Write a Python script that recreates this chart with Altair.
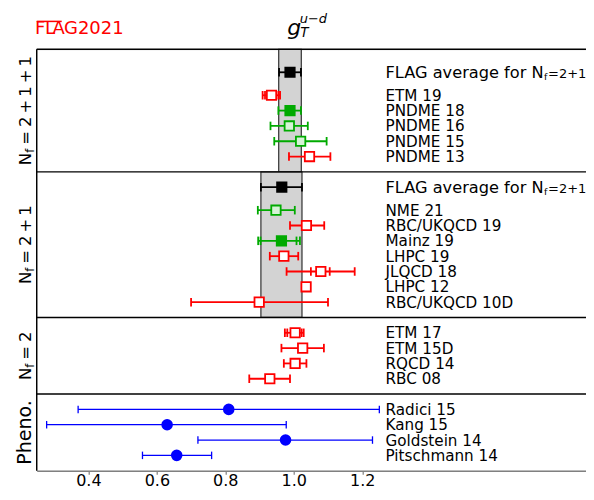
import altair as alt
import pandas as pd

# ---------------- data ----------------
names = ["", "ETM 19", "PNDME 18", "PNDME 16", "PNDME 15", "PNDME 13",
         "", "NME 21", "RBC/UKQCD 19", "Mainz 19", "LHPC 19", "JLQCD 18", "LHPC 12", "RBC/UKQCD 10D",
         "ETM 17", "ETM 15D", "RQCD 14", "RBC 08",
         "Radici 15", "Kang 15", "Goldstein 14", "Pitschmann 14"]
rows = [26, 24.5, 23.5, 22.5, 21.5, 20.5,
        18.5, 17, 16, 15, 14, 13, 12, 11,
        9, 8, 7, 6,
        4, 3, 2, 1]
values = [0.989, 0.935, 0.989, 0.987, 1.020, 1.046,
          0.965, 0.948, 1.037, 0.964, 0.971, 1.079, 1.036, 0.899,
          1.004, 1.026, 1.004, 0.930,
          0.810, 0.630, 0.976, 0.658]
err_lo = [0.957, 0.909, 0.955, 0.932, 0.943, 0.986,
          0.904, 0.895, 0.989, 0.896, 0.930, 0.979, 1.027, 0.700,
          0.974, 0.964, 0.971, 0.870,
          0.370, 0.278, 0.720, 0.558]
err_hi = [1.021, 0.960, 1.021, 1.041, 1.096, 1.107,
          1.024, 1.003, 1.089, 1.018, 1.013, 1.178, 1.045, 1.100,
          1.029, 1.088, 1.037, 0.989,
          1.250, 0.978, 1.230, 0.760]
stat_lo = [None, 0.916, None, None, None, None,
           None, None, None, 0.903, None, 1.050, None, None,
           0.981, None, None, None,
           None, None, None, None]
stat_hi = [None, 0.955, None, None, None, None,
           None, None, None, 1.008, None, 1.105, None, None,
           1.023, None, None, None,
           None, None, None, None]
styles = ["avg", "red", "green", "lgreen", "lgreen", "red",
          "avg", "lgreen", "red", "green", "red", "red", "red", "red",
          "red", "red", "red", "red",
          "blue", "blue", "blue", "blue"]

avg_rows = [26, 18.5]
avg_rest = ["=2+1+1", "=2+1"]

panel_top = [27.5, 19.5, 10, 5]
panel_bot = [19.5, 10, 5, 0]
panel_nf = [["=", "2", "+", "1", "+", "1"], ["=", "2", "+", "1"], ["=", "2"], None]

band_lo = [0.956, 0.904]
band_hi = [1.022, 1.024]
band_top = [27.5, 19.5]
band_bot = [19.5, 10]

x_ticks = [0.4, 0.6, 0.8, 1.0, 1.2]

# ---------------- layout / style ----------------
PAD_L, PAD_T, PAD_B = 28.7, 41.3, 21
W, H = 578 - PAD_L, 421.4
X_MIN = 0.249
X_MAX = X_MIN + W / 342.3
Y_MIN, Y_MAX = 0.0, 27.5
PPU_Y = H / (Y_MAX - Y_MIN)
LABEL_X = 1.268
FONT = "DejaVu Sans"
RED, GREEN, LGREEN, BLUE = "#ff0000", "#00aa00", "#d6f3d6", "#0000ff"

style_map = {
    "avg": ("black", "black", "square", 88),
    "red": (RED, "white", "square", 88),
    "green": (GREEN, GREEN, "square", 88),
    "lgreen": (GREEN, LGREEN, "square", 88),
    "blue": (BLUE, BLUE, "circle", 95),
}

df = pd.DataFrame({"name": names, "row": rows, "val": values, "lo": err_lo, "hi": err_hi,
                   "style": styles})
df["stroke"] = [style_map[s][0] for s in styles]
df["fill"] = [style_map[s][1] for s in styles]
df["shape"] = [style_map[s][2] for s in styles]
df["size"] = [style_map[s][3] for s in styles]
df["lw"] = [1.3 if s == "blue" else 1.8 for s in styles]
df["lx"] = LABEL_X

caps = []
for i in range(len(rows)):
    for v in (err_lo[i], err_hi[i], stat_lo[i], stat_hi[i]):
        if v is not None:
            caps.append({"x": v, "row": rows[i], "stroke": df["stroke"][i], "blue": styles[i] == "blue"})
caps = pd.DataFrame(caps)

xs = alt.Scale(domain=[X_MIN, X_MAX], nice=False, zero=False)
ys = alt.Scale(domain=[Y_MIN, Y_MAX], nice=False, zero=False)
xaxis = alt.Axis(values=x_ticks, format=".1f", title=None, grid=False,
                 domainColor="#808080", domainWidth=1.6, tickColor="#808080",
                 tickWidth=1.2, tickSize=3.5, labelFontSize=16, labelColor="black",
                 labelBaseline="alphabetic", labelPadding=11.5, labelFont=FONT)


def X(f):
    return alt.X(f, type="quantitative", scale=xs, axis=xaxis)


def Y(f):
    return alt.Y(f, type="quantitative", scale=ys, axis=None)


layers = []

band_df = pd.DataFrame({"lo": band_lo, "hi": band_hi, "top": band_top, "bot": band_bot})
layers.append(alt.Chart(band_df).mark_rect(fill="#d3d3d3", stroke="#333333", strokeWidth=1.2)
              .encode(x=X("lo"), x2="hi", y=Y("bot"), y2="top"))

sep_df = pd.DataFrame({"y": panel_top})
layers.append(alt.Chart(sep_df).mark_rule(color="black", strokeWidth=1.4)
              .encode(y=Y("y"), x=alt.value(0), x2=alt.value(W)))
one = pd.DataFrame({"a": [0]})
layers.append(alt.Chart(one).mark_rule(color="black", strokeWidth=1.4)
              .encode(x=alt.value(0), y=alt.value(0), y2=alt.value(H)))

# error bars
layers.append(alt.Chart(df).mark_rule()
              .encode(x=X("lo"), x2="hi", y=Y("row"),
                      color=alt.Color("stroke:N", scale=None),
                      strokeWidth=alt.StrokeWidth("lw:Q", scale=None)))
layers.append(alt.Chart(caps[~caps["blue"]]).mark_tick(orient="vertical", size=8.5, thickness=1.8, opacity=1)
              .encode(x=X("x"), y=Y("row"), color=alt.Color("stroke:N", scale=None)))
layers.append(alt.Chart(caps[caps["blue"]]).mark_tick(orient="vertical", size=7.5, thickness=1.3, opacity=1)
              .encode(x=X("x"), y=Y("row"), color=alt.Color("stroke:N", scale=None)))

# markers
layers.append(alt.Chart(df).mark_point(filled=True, opacity=1, fillOpacity=1, strokeWidth=1.8)
              .encode(x=X("val"), y=Y("row"),
                      fill=alt.Fill("fill:N", scale=None),
                      stroke=alt.Stroke("stroke:N", scale=None),
                      shape=alt.Shape("shape:N", scale=None),
                      size=alt.Size("size:Q", scale=None)))

# right-hand labels
layers.append(alt.Chart(df[df["name"] != ""]).mark_text(align="left", baseline="alphabetic", dy=5.5,
                                                         fontSize=15.2, font=FONT, color="black")
              .encode(x=X("lx"), y=Y("row"), text="name"))

avg_df = pd.DataFrame({"row": avg_rows, "rest": avg_rest, "lx": LABEL_X,
                       "main": "FLAG average for N", "sub": "f"})
layers.append(alt.Chart(avg_df).mark_text(align="left", baseline="alphabetic", dy=5.8,
                                          fontSize=16.2, font=FONT, color="black")
              .encode(x=X("lx"), y=Y("row"), text="main"))
layers.append(alt.Chart(avg_df).mark_text(align="left", baseline="alphabetic", dx=158.5, dy=8,
                                          fontSize=9.5, font=FONT, color="black")
              .encode(x=X("lx"), y=Y("row"), text="sub"))
layers.append(alt.Chart(avg_df).mark_text(align="left", baseline="alphabetic", dx=162.5, dy=5.8,
                                          fontSize=13, font=FONT, color="black")
              .encode(x=X("lx"), y=Y("row"), text="rest"))

# left panel labels (rotated), N_f built from pieces with math-like spacing
CW = {"=": 0.838, "+": 0.838, "1": 0.636, "2": 0.636}
SP = {"=": 0.24, "+": 0.18, "1": 0.0, "2": 0.0}   # extra space each side (em)
FS_L, FS_SUB = 16.5, 11.5
wN = 0.748 * FS_L
wf = 0.352 * FS_SUB
piece_rows = []
for top, bot, rest in zip(panel_top, panel_bot, panel_nf):
    if rest is None:
        continue
    c = (top + bot) / 2
    widths = [(CW[ch] + 2 * SP[ch]) * FS_L for ch in rest]
    L = wN + wf + sum(widths)
    y0 = c - (L / 2) / PPU_Y
    piece_rows.append({"y": y0, "t": "N", "fs": FS_L, "sub": False})
    piece_rows.append({"y": y0 + wN / PPU_Y, "t": "f", "fs": FS_SUB, "sub": True})
    pos = wN + wf
    for ch, w in zip(rest, widths):
        piece_rows.append({"y": y0 + (pos + SP[ch] * FS_L) / PPU_Y, "t": ch, "fs": FS_L, "sub": False})
        pos += w
pieces = pd.DataFrame(piece_rows)
for is_sub, dy in ((False, 0), (True, 3.5)):
    layers.append(alt.Chart(pieces[pieces["sub"] == is_sub])
                  .mark_text(align="left", baseline="alphabetic", angle=270, dy=dy,
                             font=FONT, color="black")
                  .encode(x=alt.value(-6), y=Y("y"), text="t",
                          size=alt.Size("fs:Q", scale=None)))
pheno_df = pd.DataFrame({"y": [(panel_top[3] + panel_bot[3]) / 2], "t": ["Pheno."]})
layers.append(alt.Chart(pheno_df).mark_text(align="center", baseline="alphabetic", angle=270,
                                            fontSize=19, font=FONT, color="black")
              .encode(x=alt.value(-6), y=Y("y"), text="t"))

# title g_T^{u-d}
title_parts = [("g", 22, 250.5, -14.6), ("T", 13.5, 263.5, -12.4), ("u\u2212d", 13, 263, -26)]
for t, fs, px, py in title_parts:
    layers.append(alt.Chart(one).mark_text(text=t, align="left", baseline="alphabetic", fontSize=fs,
                                           fontStyle="italic", font=FONT, color="black")
                  .encode(x=alt.value(px), y=alt.value(py)))

# FLAG 2021 logo
logo_parts = [("F", -1.8), ("L", 8.2), ("A", 15.8), ("G", 27.3), ("2021", 41.2)]
for t, px in logo_parts:
    layers.append(alt.Chart(one).mark_text(text=t, align="left", baseline="alphabetic", fontSize=18,
                                           font=FONT, color=RED)
                  .encode(x=alt.value(px), y=alt.value(-15)))
layers.append(alt.Chart(one).mark_rule(color=RED, strokeWidth=1.5)
              .encode(x=alt.value(0), x2=alt.value(25), y=alt.value(-27.9)))

chart = (alt.layer(*layers)
         .properties(width=W, height=H,
                     autosize=alt.AutoSizeParams(type="none"),
                     padding={"left": PAD_L, "top": PAD_T, "right": 0, "bottom": PAD_B})
         .configure_view(strokeWidth=0)
         .configure(font=FONT))

chart.save("out.html", embed_options={"renderer": "svg", "actions": False})
